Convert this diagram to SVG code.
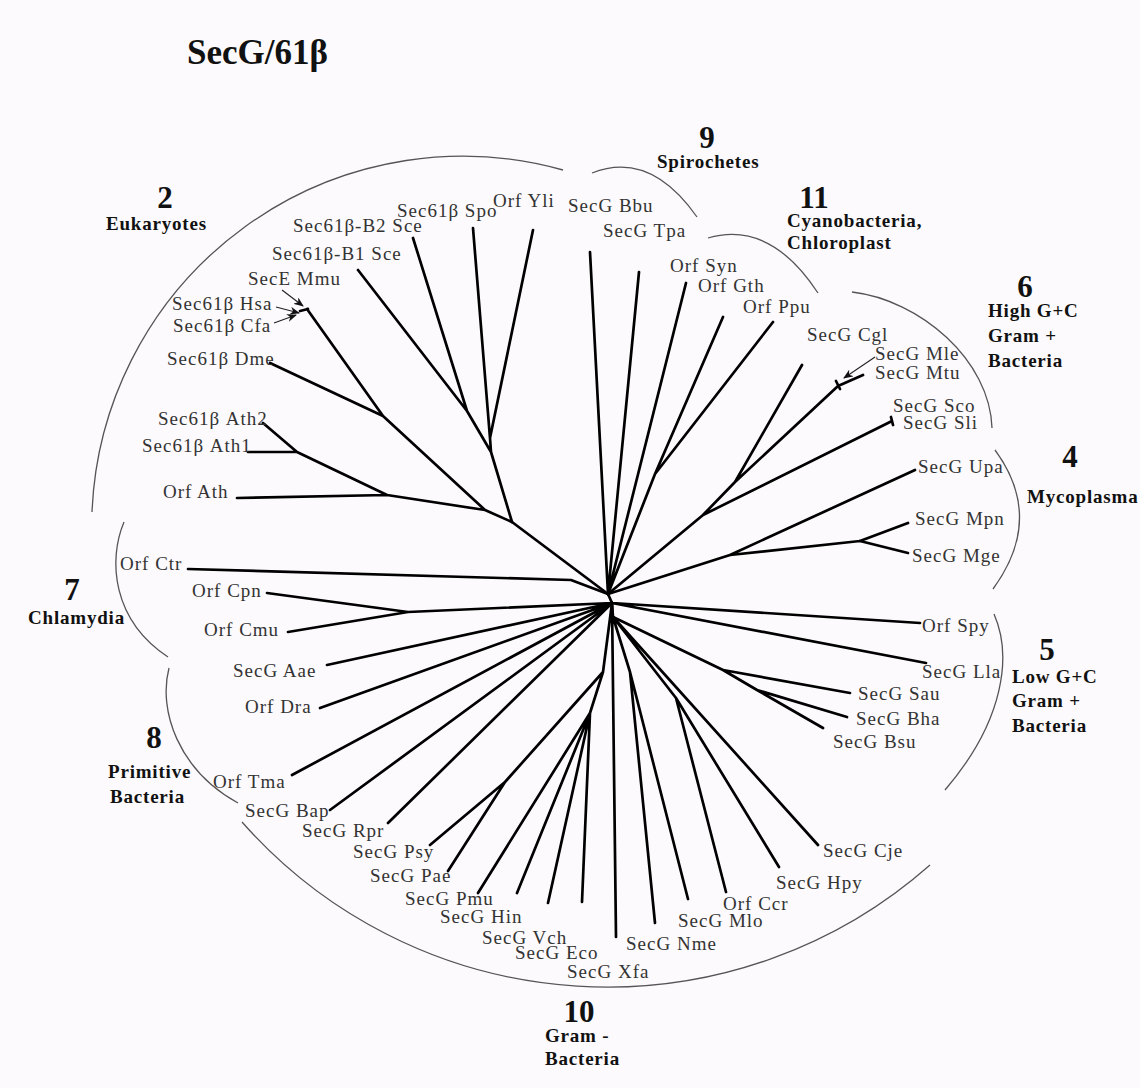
<svg xmlns="http://www.w3.org/2000/svg" width="1140" height="1088" viewBox="0 0 1140 1088">
<defs>
<style>
.br{stroke:#000;stroke-width:2.7;fill:none;stroke-linecap:round;stroke-linejoin:round}
.arc{stroke:#555;stroke-width:1.3;fill:none}
.ar{stroke:#222;stroke-width:1.1;fill:none}
.lbl{font-family:"Liberation Serif",serif;font-size:19px;letter-spacing:1px;fill:#333}
.grp{font-family:"Liberation Serif",serif;font-weight:bold;font-size:19px;letter-spacing:0.8px;fill:#111}
.num{font-family:"Liberation Serif",serif;font-weight:bold;font-size:31px;fill:#111;text-anchor:middle}
.title{font-family:"Liberation Serif",serif;font-weight:bold;font-size:35px;fill:#111}
</style>
<marker id="ah" viewBox="0 0 10 8" refX="9" refY="4" markerWidth="10" markerHeight="8" markerUnits="userSpaceOnUse" orient="auto">
<path d="M0,0 L10,4 L0,8 L3,4 z" fill="#111"/>
</marker>
</defs>
<rect width="1140" height="1088" fill="#fcfafc"/>
<text class="title" x="187" y="64">SecG/61β</text>

<g id="connectors">
<path class="br" d="M533,230 L490,438 M473,228 L490,438 M413,238 L467,411 M358,270 L467,411 M467,411 L491,452 M490,438 L491,452 M491,452 L512,522"/>
<path class="br" d="M307,309 L383,416 M300,311 L308,309 M270,363 L383,416 M383,416 L485,510 M263,423 L297,452 M248,452 L297,452 M297,452 L387,495 M237,498 L387,495 M387,495 L485,510 M485,510 L512,522 L608,594"/>
<path class="br" d="M590,252 L608,594 M639,272 L608,594 M686,283 L608,594 M723,317 L655,474 M773,322 L655,474 M655,474 L608,594"/>
<path class="br" d="M802,365 L735,482 M863,375 L838,386 M838,386 L735,482 L703,515 M892,421 L703,515 M703,515 L608,594 M836,381 L840,389 M891,417 L893,425"/>
<path class="br" d="M908,523 L860,541 M908,553 L860,541 M860,541 L730,555 M915,470 L730,555 M730,555 L608,594"/>
<path class="br" d="M608,594 L612,603 L613,617"/>
<path class="br" d="M188,569 L571,580 L608,594 M267,593 L408,612 M288,632 L408,612 M408,612 L612,603 M327,665 L612,603 M320,708 L612,603 M292,775 L612,603 M330,810 L612,603 M388,823 L612,603"/>
<path class="br" d="M430,845 L505,782 M448,871 L505,782 M505,782 L603,672 M478,893 L590,713 M517,893 L590,713 M548,903 L590,713 M582,902 L590,713 M590,713 L603,672 L612,603 M616,937 L612,603 M655,923 L630,672 M688,899 L630,672 M630,672 L613,617 M726,892 L676,698 M779,867 L676,698 M676,698 L613,617 M818,845 L613,617"/>
<path class="br" d="M850,693 L723,670 M847,717 L757,690 M823,728 L757,690 M757,690 L723,670 L613,617 M920,623 L612,603 M926,663 L612,603"/>
<path class="ar" marker-end="url(#ah)" d="M282,290 L303,306"/>
<path class="ar" marker-end="url(#ah)" d="M276,307 L299,313"/>
<path class="ar" marker-end="url(#ah)" d="M274,323 L296,315"/>
<path class="ar" marker-end="url(#ah)" d="M875,357 L844,378"/>
</g>

<g id="clade-2">
<path class="arc" d="M92,512 A371,371 0 0 1 563,170"/>
<text class="num" x="165" y="208">2</text>
<text class="grp" x="106" y="230">Eukaryotes</text>
</g>
<g id="clade-9">
<path class="arc" d="M592,173 Q650,150 697,217"/>
<text class="num" x="707" y="148">9</text>
<text class="grp" x="657" y="168">Spirochetes</text>
</g>
<g id="clade-11">
<path class="arc" d="M708,238 Q770,220 818,293"/>
<text class="num" x="814" y="208">11</text>
<text class="grp" x="787" y="227">Cyanobacteria,</text>
<text class="grp" x="787" y="249">Chloroplast</text>
</g>
<g id="clade-6">
<path class="arc" d="M852,292 C920,300 990,360 992,428"/>
<text class="num" x="1025" y="297">6</text>
<text class="grp" x="988" y="317">High G+C</text>
<text class="grp" x="988" y="342">Gram +</text>
<text class="grp" x="988" y="367">Bacteria</text>
</g>
<g id="clade-4">
<path class="arc" d="M995,450 Q1045,518 993,589"/>
<text class="num" x="1070" y="467">4</text>
<text class="grp" x="1027" y="503">Mycoplasma</text>
</g>
<g id="clade-5">
<path class="arc" d="M994,614 C1012,655 1005,720 945,790"/>
<text class="num" x="1047" y="660">5</text>
<text class="grp" x="1012" y="683">Low G+C</text>
<text class="grp" x="1012" y="707">Gram +</text>
<text class="grp" x="1012" y="732">Bacteria</text>
</g>
<g id="clade-7">
<path class="arc" d="M124,522 C108,560 112,620 168,657"/>
<text class="num" x="72" y="600">7</text>
<text class="grp" x="28" y="624">Chlamydia</text>
</g>
<g id="clade-8">
<path class="arc" d="M169,668 C158,710 178,770 238,803"/>
<text class="num" x="154" y="748">8</text>
<text class="grp" x="108" y="778">Primitive</text>
<text class="grp" x="110" y="803">Bacteria</text>
</g>
<g id="clade-10">
<path class="arc" d="M242,822 A487,487 0 0 0 930,865"/>
<text class="num" x="579" y="1022">10</text>
<text class="grp" x="545" y="1042">Gram -</text>
<text class="grp" x="545" y="1065">Bacteria</text>
</g>

<g id="leaves">
<g id="n-spo"><text class="lbl" x="397" y="217">Sec61β Spo</text></g>
<g id="n-yli"><text class="lbl" x="493" y="207">Orf Yli</text></g>
<g id="n-b2sce"><text class="lbl" x="293" y="232">Sec61β-B2 Sce</text></g>
<g id="n-b1sce"><text class="lbl" x="272" y="260">Sec61β-B1 Sce</text></g>
<g id="n-mmu"><text class="lbl" x="248" y="285">SecE Mmu</text></g>
<g id="n-hsa"><text class="lbl" x="172" y="310">Sec61β Hsa</text></g>
<g id="n-cfa"><text class="lbl" x="173" y="332">Sec61β Cfa</text></g>
<g id="n-dme"><text class="lbl" x="167" y="365">Sec61β Dme</text></g>
<g id="n-ath2"><text class="lbl" x="158" y="425">Sec61β Ath2</text></g>
<g id="n-ath1"><text class="lbl" x="142" y="452">Sec61β Ath1</text></g>
<g id="n-ath"><text class="lbl" x="163" y="498">Orf Ath</text></g>
<g id="n-bbu"><text class="lbl" x="568" y="212">SecG Bbu</text></g>
<g id="n-tpa"><text class="lbl" x="603" y="237">SecG Tpa</text></g>
<g id="n-syn"><text class="lbl" x="670" y="272">Orf Syn</text></g>
<g id="n-gth"><text class="lbl" x="698" y="292">Orf Gth</text></g>
<g id="n-ppu"><text class="lbl" x="743" y="313">Orf Ppu</text></g>
<g id="n-cgl"><text class="lbl" x="807" y="341">SecG Cgl</text></g>
<g id="n-mle"><text class="lbl" x="875" y="360">SecG Mle</text></g>
<g id="n-mtu"><text class="lbl" x="875" y="379">SecG Mtu</text></g>
<g id="n-sco"><text class="lbl" x="893" y="412">SecG Sco</text></g>
<g id="n-sli"><text class="lbl" x="903" y="429">SecG Sli</text></g>
<g id="n-upa"><text class="lbl" x="918" y="473">SecG Upa</text></g>
<g id="n-mpn"><text class="lbl" x="915" y="525">SecG Mpn</text></g>
<g id="n-mge"><text class="lbl" x="912" y="562">SecG Mge</text></g>
<g id="n-spy"><text class="lbl" x="922" y="632">Orf Spy</text></g>
<g id="n-lla"><text class="lbl" x="922" y="678">SecG Lla</text></g>
<g id="n-sau"><text class="lbl" x="858" y="700">SecG Sau</text></g>
<g id="n-bha"><text class="lbl" x="856" y="725">SecG Bha</text></g>
<g id="n-bsu"><text class="lbl" x="833" y="748">SecG Bsu</text></g>
<g id="n-cje"><text class="lbl" x="823" y="857">SecG Cje</text></g>
<g id="n-hpy"><text class="lbl" x="776" y="889">SecG Hpy</text></g>
<g id="n-ccr"><text class="lbl" x="723" y="910">Orf Ccr</text></g>
<g id="n-mlo"><text class="lbl" x="678" y="927">SecG Mlo</text></g>
<g id="n-nme"><text class="lbl" x="626" y="950">SecG Nme</text></g>
<g id="n-xfa"><text class="lbl" x="567" y="978">SecG Xfa</text></g>
<g id="n-eco"><text class="lbl" x="515" y="959">SecG Eco</text></g>
<g id="n-vch"><text class="lbl" x="482" y="944">SecG Vch</text></g>
<g id="n-hin"><text class="lbl" x="440" y="923">SecG Hin</text></g>
<g id="n-pmu"><text class="lbl" x="405" y="905">SecG Pmu</text></g>
<g id="n-pae"><text class="lbl" x="370" y="882">SecG Pae</text></g>
<g id="n-psy"><text class="lbl" x="353" y="858">SecG Psy</text></g>
<g id="n-rpr"><text class="lbl" x="302" y="837">SecG Rpr</text></g>
<g id="n-bap"><text class="lbl" x="245" y="817">SecG Bap</text></g>
<g id="n-tma"><text class="lbl" x="213" y="788">Orf Tma</text></g>
<g id="n-dra"><text class="lbl" x="245" y="713">Orf Dra</text></g>
<g id="n-aae"><text class="lbl" x="233" y="677">SecG Aae</text></g>
<g id="n-cmu"><text class="lbl" x="204" y="636">Orf Cmu</text></g>
<g id="n-cpn"><text class="lbl" x="192" y="597">Orf Cpn</text></g>
<g id="n-ctr"><text class="lbl" x="120" y="570">Orf Ctr</text></g>
</g>
</svg>
